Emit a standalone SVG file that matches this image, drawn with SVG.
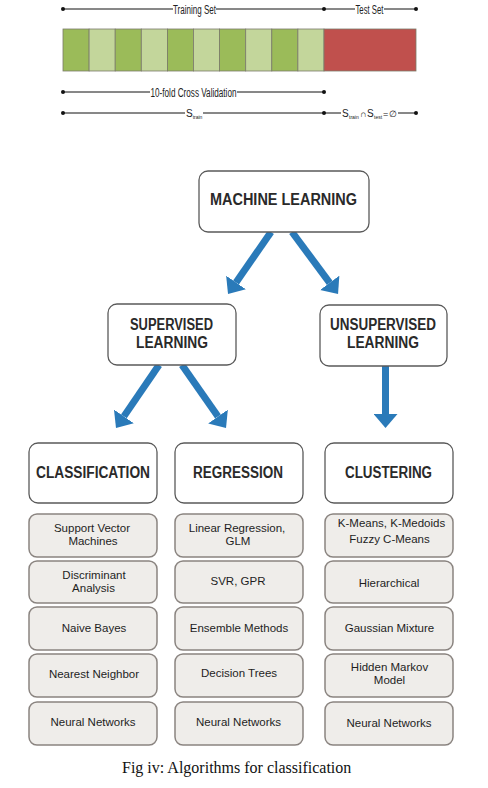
<svg xmlns="http://www.w3.org/2000/svg" width="488" height="788" viewBox="0 0 488 788">
<style>
.dim{stroke:#111;stroke-width:1;fill:none}
.dot{fill:#111}
.dt{font-family:"Liberation Sans",Arial,sans-serif;font-size:12px;fill:#222}
.st{font-family:"Liberation Sans",Arial,sans-serif;font-size:10px;fill:#222}
.cd{fill:#9bbb59;stroke:#7a7a6a;stroke-width:0.8}
.cl{fill:#c3d69b;stroke:#7a7a6a;stroke-width:0.8}
.hdr rect{fill:#fff;stroke:#5a5a5a;stroke-width:1.3}
.hdr text{font-family:"Liberation Sans",Arial,sans-serif;font-weight:bold;font-size:16px;fill:#2a2a2a;text-anchor:middle}
.sub rect{fill:#efedea;stroke:#8a8480;stroke-width:1.5}
.sub text{font-family:"Liberation Sans",Arial,sans-serif;font-size:11.5px;fill:#1e1e1e;text-anchor:middle}
.arr{stroke:#2a7ab9;stroke-width:7;fill:none;marker-end:url(#ah)}
</style>
<defs>
<marker id="ah" markerUnits="userSpaceOnUse" markerWidth="14" markerHeight="24" viewBox="0 0 14 24" refX="0" refY="12" orient="auto">
<path d="M0,0 L14,12 L0,24 z" fill="#2a7ab9"/>
</marker>
</defs>
<rect width="488" height="788" fill="#fff"/>

<g id="split-diagram">
<line class="dim" x1="63" y1="9" x2="173" y2="9"/>
<line class="dim" x1="216" y1="9" x2="324" y2="9"/>
<line class="dim" x1="324" y1="9" x2="355" y2="9"/>
<line class="dim" x1="384" y1="9" x2="416" y2="9"/>
<circle class="dot" cx="63" cy="9" r="2"/><circle class="dot" cx="324" cy="9" r="2"/><circle class="dot" cx="416" cy="9" r="2"/>
<text class="dt" x="194.5" y="13.5" text-anchor="middle" textLength="43" lengthAdjust="spacingAndGlyphs">Training Set</text>
<text class="dt" x="369.5" y="13.5" text-anchor="middle" textLength="28" lengthAdjust="spacingAndGlyphs">Test Set</text>
<rect class="cd" x="63" y="29" width="26.1" height="42"/>
<rect class="cl" x="89.1" y="29" width="26.1" height="42"/>
<rect class="cd" x="115.2" y="29" width="26.1" height="42"/>
<rect class="cl" x="141.3" y="29" width="26.1" height="42"/>
<rect class="cd" x="167.4" y="29" width="26.1" height="42"/>
<rect class="cl" x="193.5" y="29" width="26.1" height="42"/>
<rect class="cd" x="219.6" y="29" width="26.1" height="42"/>
<rect class="cl" x="245.7" y="29" width="26.1" height="42"/>
<rect class="cd" x="271.8" y="29" width="26.1" height="42"/>
<rect class="cl" x="297.9" y="29" width="26.1" height="42"/>
<rect x="324" y="29" width="92" height="42" fill="#c0504d" stroke="#7a7a6a" stroke-width="0.8"/>
<line class="dim" x1="63" y1="92" x2="150" y2="92"/>
<line class="dim" x1="237" y1="92" x2="324" y2="92"/>
<circle class="dot" cx="63" cy="92" r="2"/><circle class="dot" cx="324" cy="92" r="2"/>
<text class="dt" x="193.5" y="96.5" text-anchor="middle" textLength="86" lengthAdjust="spacingAndGlyphs">10-fold Cross Validation</text>
<line class="dim" x1="63" y1="113" x2="185" y2="113"/>
<line class="dim" x1="203" y1="113" x2="324" y2="113"/>
<line class="dim" x1="324" y1="113" x2="341" y2="113"/>
<line class="dim" x1="398" y1="113" x2="416" y2="113"/>
<circle class="dot" cx="63" cy="113" r="2"/><circle class="dot" cx="324" cy="113" r="2"/><circle class="dot" cx="416" cy="113" r="2"/>
<text class="st" x="186" y="116.5">S<tspan font-size="5" dy="2">train</tspan></text>
<text class="st" x="342" y="116.5">S<tspan font-size="5" x="349" dy="2">train</tspan><tspan font-size="9" x="360" dy="-2">∩</tspan><tspan x="367">S</tspan><tspan font-size="5" x="374" dy="2">test</tspan><tspan font-size="9" x="383" dy="-2">=</tspan><tspan font-size="9" x="389">∅</tspan></text>
</g>

<g id="connectors">
<line class="arr" x1="271" y1="232" x2="236" y2="282.5"/>
<line class="arr" x1="292" y1="232" x2="329.7" y2="282.8"/>
<line class="arr" x1="159" y1="365" x2="123.9" y2="416.4"/>
<line class="arr" x1="182" y1="365" x2="218" y2="416.5"/>
<line class="arr" x1="385.5" y1="366" x2="385.5" y2="414"/>
</g>

<g id="machine-learning" class="hdr">
<rect x="199" y="171" width="170" height="61" rx="9"/>
<text x="283.5" y="205" textLength="147" lengthAdjust="spacingAndGlyphs">MACHINE LEARNING</text>
</g>
<g id="supervised" class="hdr">
<rect x="108" y="304" width="128" height="61" rx="9"/>
<text x="171.5" y="330" textLength="83" lengthAdjust="spacingAndGlyphs">SUPERVISED</text>
<text x="172" y="348" textLength="72" lengthAdjust="spacingAndGlyphs">LEARNING</text>
</g>
<g id="unsupervised" class="hdr">
<rect x="320" y="305" width="127" height="61" rx="9"/>
<text x="383" y="330" textLength="106" lengthAdjust="spacingAndGlyphs">UNSUPERVISED</text>
<text x="383" y="348" textLength="72" lengthAdjust="spacingAndGlyphs">LEARNING</text>
</g>
<g id="classification" class="hdr">
<rect x="29" y="443" width="128" height="60" rx="9"/>
<text x="93" y="478" textLength="114" lengthAdjust="spacingAndGlyphs">CLASSIFICATION</text>
</g>
<g id="regression" class="hdr">
<rect x="175" y="443" width="128" height="60" rx="9"/>
<text x="238" y="478" textLength="90" lengthAdjust="spacingAndGlyphs">REGRESSION</text>
</g>
<g id="clustering" class="hdr">
<rect x="325" y="443" width="128" height="60" rx="9"/>
<text x="388.5" y="478" textLength="87" lengthAdjust="spacingAndGlyphs">CLUSTERING</text>
</g>

<g id="svm" class="sub"><rect x="29" y="514" width="128" height="43" rx="8"/><text x="92" y="532">Support Vector</text><text x="93" y="545">Machines</text></g>
<g id="discriminant" class="sub"><rect x="29" y="561" width="128" height="42" rx="8"/><text x="94" y="579">Discriminant</text><text x="93.5" y="592">Analysis</text></g>
<g id="naive-bayes" class="sub"><rect x="29" y="607" width="128" height="43" rx="8"/><text x="94" y="632">Naive Bayes</text></g>
<g id="nearest-neighbor" class="sub"><rect x="29" y="654" width="128" height="43" rx="8"/><text x="94" y="678">Nearest Neighbor</text></g>
<g id="nn-class" class="sub"><rect x="29" y="702" width="128" height="43" rx="8"/><text x="93" y="726">Neural Networks</text></g>

<g id="linear-regression" class="sub"><rect x="175" y="514" width="128" height="43" rx="8"/><text x="237" y="532">Linear Regression,</text><text x="238" y="545">GLM</text></g>
<g id="svr-gpr" class="sub"><rect x="175" y="561" width="128" height="42" rx="8"/><text x="238" y="585">SVR, GPR</text></g>
<g id="ensemble" class="sub"><rect x="175" y="607" width="128" height="43" rx="8"/><text x="239" y="632">Ensemble Methods</text></g>
<g id="decision-trees" class="sub"><rect x="175" y="654" width="128" height="43" rx="8"/><text x="239" y="677">Decision Trees</text></g>
<g id="nn-reg" class="sub"><rect x="175" y="702" width="128" height="43" rx="8"/><text x="238.5" y="726">Neural Networks</text></g>

<g id="kmeans" class="sub"><rect x="325" y="514" width="128" height="43" rx="8"/><text x="391.5" y="527">K-Means, K-Medoids</text><text x="389.5" y="543">Fuzzy C-Means</text></g>
<g id="hierarchical" class="sub"><rect x="325" y="561" width="128" height="42" rx="8"/><text x="389" y="587">Hierarchical</text></g>
<g id="gaussian" class="sub"><rect x="325" y="607" width="128" height="43" rx="8"/><text x="389.5" y="632">Gaussian Mixture</text></g>
<g id="hmm" class="sub"><rect x="325" y="654" width="128" height="43" rx="8"/><text x="389.5" y="671">Hidden Markov</text><text x="389.5" y="684">Model</text></g>
<g id="nn-clust" class="sub"><rect x="325" y="702" width="128" height="43" rx="8"/><text x="389" y="727">Neural Networks</text></g>

<text x="122" y="773" font-family="'Liberation Serif','Times New Roman',serif" font-size="16" fill="#111">Fig iv: Algorithms for classification</text>
</svg>
